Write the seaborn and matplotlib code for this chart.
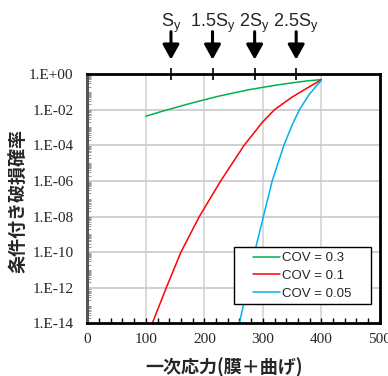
import matplotlib
matplotlib.use('Agg')
import matplotlib.pyplot as plt
import matplotlib.ticker as mticker
import seaborn as sns
import numpy as np
import pandas as pd

# valores
x_green = [100, 125, 150, 175, 200, 225, 250, 275, 300, 325, 350, 375, 400]
p_green = [4.3e-3, 7.6e-3, 1.3e-2, 2.2e-2, 3.6e-2, 5.8e-2, 8.7e-2, 0.13, 0.18, 0.245, 0.32, 0.41, 0.49]
x_red = [111, 135, 160, 191.5, 228, 268, 300, 320, 350, 375, 400]
p_red = [1e-14, 1e-12, 1e-10, 1e-8, 1e-6, 1e-4, 2.1e-3, 1e-2, 5.1e-2, 0.158, 0.48]
x_blue = [260, 273, 286, 301, 316, 336, 350, 362.5, 378.5, 390, 400]
p_blue = [1e-14, 1e-12, 1e-10, 1e-8, 1e-6, 1e-4, 1.35e-3, 1e-2, 6.6e-2, 0.19, 0.44]
series_labels = ['COV = 0.3', 'COV = 0.1', 'COV = 0.05']
series_colors = ['#00B050', '#FF0000', '#00B0F0']

sy_pos = [143, 214, 286, 357]
sy_labels = ['S$_y$', '1.5S$_y$', '2S$_y$', '2.5S$_y$']
y_exp = [0, -2, -4, -6, -8, -10, -12, -14]

df = pd.concat([
    pd.DataFrame({'x': x_green, 'p': p_green, 'cov': series_labels[0]}),
    pd.DataFrame({'x': x_red, 'p': p_red, 'cov': series_labels[1]}),
    pd.DataFrame({'x': x_blue, 'p': p_blue, 'cov': series_labels[2]}),
])

sns.set_style('white')
plt.rcParams['mathtext.default'] = 'regular'
cjk = ['Noto Sans CJK JP', 'DejaVu Sans']

fig = plt.figure(figsize=(3.88, 3.76), dpi=100)
ax = fig.add_axes([0.225, 0.140, 0.754, 0.663])

sns.lineplot(data=df, x='x', y='p', hue='cov', palette=series_colors,
             hue_order=series_labels, linewidth=1.1, ax=ax, sort=False,
             estimator=None)

ax.set_yscale('log')
ax.set_xlim(0, 500)
ax.set_ylim(1e-14, 1)

# grade
for gx in [100, 200, 300, 400]:
    ax.axvline(gx, color='#d4d4d4', lw=1.2, zorder=0)
for e in y_exp[1:-1]:
    ax.axhline(10.0 ** e, color='#c8c8c8', lw=1.2, zorder=0)

ax.set_yticks([10.0 ** e for e in y_exp])
ax.set_yticklabels(['1.E+00' if e == 0 else '1.E-%02d' % -e for e in y_exp],
                   family='Liberation Serif', fontsize=11)
ax.yaxis.set_minor_locator(mticker.LogLocator(base=10, subs=np.arange(1, 10), numticks=100))
ax.yaxis.set_minor_formatter(mticker.NullFormatter())
ax.tick_params(axis='y', which='major', direction='inout', length=4, width=1,
               color='#777777', pad=8)
ax.tick_params(axis='y', which='minor', direction='in', length=3, width=0.7,
               color='#999999', left=True)

ax.set_xticks([0, 100, 200, 300, 400, 500])
ax.set_xticklabels(['0', '100', '200', '300', '400', '500'],
                   family='Liberation Serif', fontsize=11)
ax.xaxis.set_minor_locator(mticker.MultipleLocator(20))
ax.tick_params(axis='x', which='both', direction='in', length=3.5, width=1,
               color='black', bottom=True, pad=7)

for s in ['top', 'right', 'bottom']:
    ax.spines[s].set_color('black')
    ax.spines[s].set_linewidth(2)
ax.spines['left'].set_color('#555555')
ax.spines['left'].set_linewidth(2.2)

# eixo superior com Sy
ax2 = ax.twiny()
ax2.set_xlim(ax.get_xlim())
ax2.set_xticks(sy_pos)
ax2.set_xticklabels([])
ax2.tick_params(axis='x', direction='inout', length=8, width=1.2, color='black')
for s in ax2.spines.values():
    s.set_visible(False)

for xs, lab in zip(sy_pos, sy_labels):
    ax.annotate('', xy=(xs, 1.058), xycoords=('data', 'axes fraction'),
                xytext=(xs, 1.17), textcoords=('data', 'axes fraction'),
                arrowprops=dict(arrowstyle='-|>,head_length=0.9,head_width=0.5',
                                color='black', lw=2.2, shrinkA=0, shrinkB=0),
                annotation_clip=False)
    ax.text(xs, 1.205, lab, transform=ax.get_xaxis_transform(), ha='center',
            va='center', fontsize=13, family='Liberation Sans')

ax.set_xlabel('一次応力(膜＋曲げ)', family=cjk, fontsize=13, fontweight='bold')
ax.xaxis.set_label_coords(0.467, -0.136)
ax.set_ylabel('条件付き破損確率', family=cjk, fontsize=13, fontweight='bold')
ax.yaxis.set_label_coords(-0.205, 0.49)

leg = ax.legend(loc='upper left', bbox_to_anchor=(0.502, 0.076, 0.467, 0.229),
                mode='expand', borderaxespad=0,
                prop={'family': 'Liberation Sans', 'size': 9.5}, frameon=True,
                fancybox=False, edgecolor='black', handlelength=3.1,
                handletextpad=0.15, labelspacing=0.42, borderpad=0.35)
leg.get_frame().set_linewidth(1.0)
leg.get_frame().set_alpha(1)
for line in leg.get_lines():
    line.set_linewidth(1.1)
    xd = line.get_xdata()
    x0, x1 = xd[0], xd[-1]
    line.set_xdata([x0 + 0.34 * (x1 - x0), x1])
    line.set_ydata([line.get_ydata()[0]] * 2)

fig.savefig('out.png', dpi=100)
